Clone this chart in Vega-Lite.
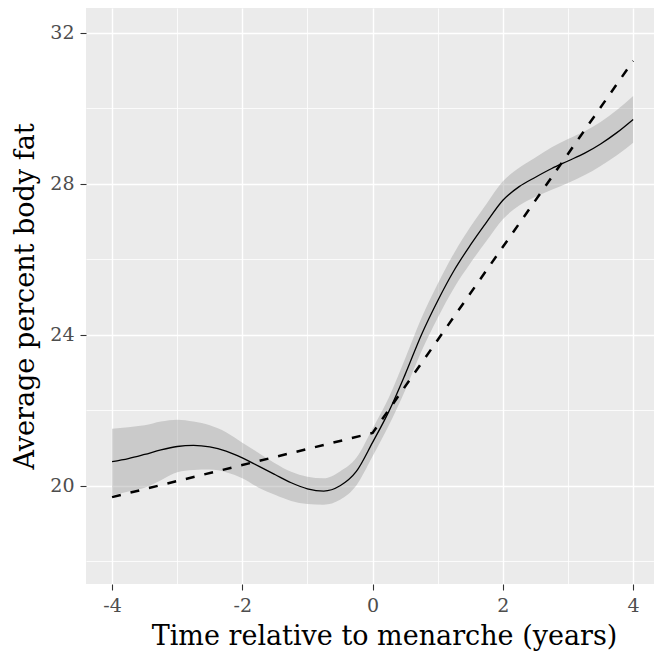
{
  "$schema": "https://vega.github.io/schema/vega-lite/v6.json",
  "width": 568,
  "height": 576,
  "autosize": {"type": "none"},
  "padding": {"left": 86, "top": 8, "right": 0, "bottom": 73},
  "background": "white",
  "config": {
    "view": {"fill": "#EBEBEB", "stroke": null},
    "font": "DejaVu Serif"
  },
  "datasets": {
    "smooth": [
      {"t": -4, "fat": 20.64, "lo": 19.75, "hi": 21.51},
      {"t": -3.75, "fat": 20.72, "lo": 19.85, "hi": 21.55},
      {"t": -3.5, "fat": 20.83, "lo": 19.95, "hi": 21.6},
      {"t": -3.25, "fat": 20.95, "lo": 20.15, "hi": 21.7},
      {"t": -3, "fat": 21.04, "lo": 20.36, "hi": 21.75},
      {"t": -2.75, "fat": 21.07, "lo": 20.42, "hi": 21.7},
      {"t": -2.5, "fat": 21.03, "lo": 20.43, "hi": 21.6},
      {"t": -2.25, "fat": 20.92, "lo": 20.36, "hi": 21.42},
      {"t": -2, "fat": 20.74, "lo": 20.2, "hi": 21.14},
      {"t": -1.75, "fat": 20.52, "lo": 19.95, "hi": 20.87},
      {"t": -1.5, "fat": 20.3, "lo": 19.76, "hi": 20.6},
      {"t": -1.25, "fat": 20.08, "lo": 19.6, "hi": 20.37},
      {"t": -1, "fat": 19.92, "lo": 19.52, "hi": 20.24},
      {"t": -0.75, "fat": 19.86, "lo": 19.5, "hi": 20.2},
      {"t": -0.5, "fat": 20.0, "lo": 19.63, "hi": 20.38},
      {"t": -0.25, "fat": 20.38, "lo": 20.01, "hi": 20.74},
      {"t": 0, "fat": 21.15, "lo": 20.78, "hi": 21.52},
      {"t": 0.25, "fat": 21.97, "lo": 21.6, "hi": 22.34},
      {"t": 0.5, "fat": 22.95, "lo": 22.53, "hi": 23.37},
      {"t": 0.75, "fat": 24.0, "lo": 23.56, "hi": 24.44},
      {"t": 1, "fat": 24.9, "lo": 24.45, "hi": 25.35},
      {"t": 1.25, "fat": 25.7, "lo": 25.24, "hi": 26.16},
      {"t": 1.5, "fat": 26.37, "lo": 25.89, "hi": 26.85},
      {"t": 1.75, "fat": 26.98, "lo": 26.49, "hi": 27.47},
      {"t": 2, "fat": 27.56, "lo": 27.06, "hi": 28.06},
      {"t": 2.25, "fat": 27.92, "lo": 27.42, "hi": 28.42},
      {"t": 2.5, "fat": 28.17, "lo": 27.65, "hi": 28.69},
      {"t": 2.75, "fat": 28.4, "lo": 27.84, "hi": 28.96},
      {"t": 3, "fat": 28.6, "lo": 28.02, "hi": 29.18},
      {"t": 3.25, "fat": 28.8, "lo": 28.22, "hi": 29.38},
      {"t": 3.5, "fat": 29.05, "lo": 28.47, "hi": 29.63},
      {"t": 3.75, "fat": 29.35, "lo": 28.75, "hi": 29.95},
      {"t": 4, "fat": 29.7, "lo": 29.08, "hi": 30.32}
    ],
    "piecewise": [
      {"t": -4, "fat": 19.7},
      {"t": 0, "fat": 21.4},
      {"t": 4, "fat": 31.25}
    ]
  },
  "layer": [
    {
      "data": {"name": "smooth"},
      "mark": {"type": "area", "color": "#999999", "opacity": 0.4, "interpolate": "monotone"},
      "encoding": {
        "x": {
          "field": "t", "type": "quantitative",
          "scale": {"domain": [-4.4, 4.32], "nice": false, "zero": false},
          "axis": {
            "orient": "bottom", "values": [-3, -1, 1, 3], "grid": true, "gridColor": "white", "gridWidth": 0.8,
            "ticks": false, "labels": false, "domain": false, "title": null
          }
        },
        "y": {
          "field": "lo", "type": "quantitative",
          "scale": {"domain": [17.4, 32.65], "nice": false, "zero": false},
          "axis": {
            "orient": "left", "values": [18, 22, 26, 30], "grid": true, "gridColor": "white", "gridWidth": 0.8,
            "ticks": false, "labels": false, "domain": false, "title": null
          }
        },
        "y2": {"field": "hi"}
      }
    },
    {
      "data": {"name": "smooth"},
      "mark": {"type": "line", "color": "black", "strokeWidth": 1.3, "interpolate": "monotone"},
      "encoding": {
        "x": {
          "field": "t", "type": "quantitative",
          "scale": {"domain": [-4.4, 4.32], "nice": false, "zero": false},
          "axis": {
            "orient": "bottom", "values": [-4, -2, 0, 2, 4], "grid": true, "gridColor": "white", "gridWidth": 1.4,
            "domain": false, "tickColor": "#333333", "tickSize": 6, "tickWidth": 1.1,
            "labelExpr": "toString(datum.value)", "labelFont": "DejaVu Serif", "labelFontSize": 19,
            "labelColor": "#4D4D4D", "labelPadding": 6,
            "title": "Time relative to menarche (years)", "titleFont": "DejaVu Serif", "titleFontSize": 27,
            "titleFontWeight": "normal", "titleColor": "black", "titlePadding": 8, "titleX": 298
          }
        },
        "y": {
          "field": "fat", "type": "quantitative",
          "scale": {"domain": [17.4, 32.65], "nice": false, "zero": false},
          "axis": {
            "orient": "left", "values": [20, 24, 28, 32], "grid": true, "gridColor": "white", "gridWidth": 1.4,
            "domain": false, "tickColor": "#333333", "tickSize": 6, "tickWidth": 1.1,
            "labelExpr": "toString(datum.value)", "labelFont": "DejaVu Serif", "labelFontSize": 19,
            "labelColor": "#4D4D4D", "labelPadding": 6,
            "title": "Average percent body fat", "titleFont": "DejaVu Serif", "titleFontSize": 27,
            "titleFontWeight": "normal", "titleColor": "black", "titlePadding": 10
          }
        }
      }
    },
    {
      "data": {"name": "piecewise"},
      "mark": {"type": "line", "color": "black", "strokeWidth": 2.5, "strokeDash": [9, 10]},
      "encoding": {
        "x": {"field": "t", "type": "quantitative", "scale": {"domain": [-4.4, 4.32], "nice": false, "zero": false}, "axis": null},
        "y": {"field": "fat", "type": "quantitative", "scale": {"domain": [17.4, 32.65], "nice": false, "zero": false}, "axis": null}
      }
    }
  ],
  "resolve": {"axis": {"x": "independent", "y": "independent"}}
}
